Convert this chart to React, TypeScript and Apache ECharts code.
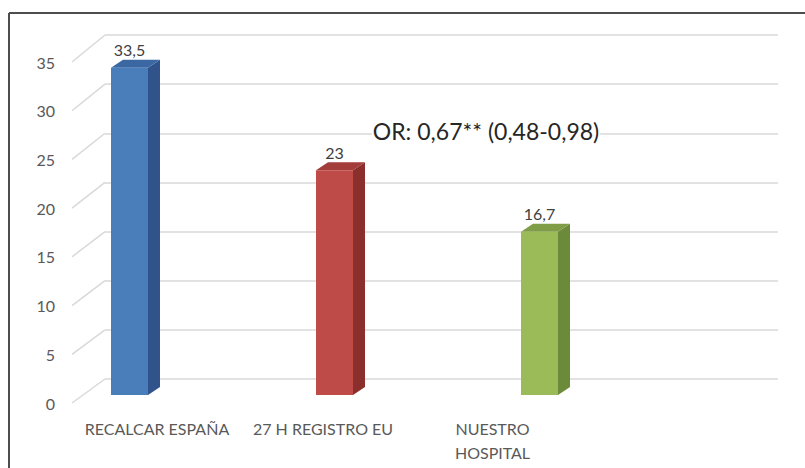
import React, { useEffect, useRef } from "react";
import * as echarts from "echarts";

const categories = ["RECALCAR ESPAÑA", "27 H REGISTRO EU", "NUESTRO\nHOSPITAL"];
const values = [33.5, 23, 16.7];
const yTicks = [0, 5, 10, 15, 20, 25, 30, 35];
const annotation = "OR: 0,67** (0,48-0,98)";

const frontColors = ["#4a7ebb", "#be4b48", "#9bbb59"];
const sideColors = ["#2f538a", "#8a2f2c", "#6b8a3a"];
const topColors = ["#3b67a3", "#a33d3a", "#7f9c47"];
// per-category label shift via padding [top,right,bottom,left]
const labelPads = [
  [0, 0, 0, 55],
  [0, 23, 0, 0],
  [0, 94, 0, 0],
];

const FONT = "Lato, 'Open Sans', sans-serif";

export default function App() {
  const ref = useRef<HTMLDivElement>(null);
  useEffect(() => {
    if (!ref.current) return;
    const chart = echarts.init(ref.current, undefined, { renderer: "svg" });
    const rich: any = {};
    labelPads.forEach((p, i) => {
      rich["c" + i] = {
        padding: p,
        fontFamily: FONT,
        fontSize: 16,
        color: "#595959",
        lineHeight: 24,
      };
    });
    const W = 37;
    const D = 12;
    const H = 8;
    chart.setOption({
      animation: false,
      backgroundColor: "#ffffff",
      grid: [
        { left: 105, top: 35, width: 673, height: 344 },
        { left: 72, top: 62, width: 673, height: 341 },
        { left: 27, top: 53, width: 615, height: 342 },
      ],
      xAxis: [
        { gridIndex: 0, type: "value", min: 0, max: 1, show: false },
        { gridIndex: 1, type: "value", min: 0, max: 1, show: false },
        {
          gridIndex: 2,
          type: "category",
          data: categories,
          axisLine: { show: false },
          axisTick: { show: false },
          splitLine: { show: false },
          axisLabel: {
            margin: 21,
            interval: 0,
            formatter: (v: string, i: number) =>
              v
                .split("\n")
                .map((s) => `{c${i}|${s}}`)
                .join("\n"),
            rich,
          },
        },
      ],
      yAxis: [
        {
          gridIndex: 0,
          type: "value",
          min: 0,
          max: 35,
          interval: 5,
          axisLine: { show: false },
          axisTick: { show: false },
          axisLabel: { show: false },
          splitLine: { lineStyle: { color: "#d9d9d9", width: 1.5 } },
        },
        {
          gridIndex: 1,
          type: "value",
          min: 0,
          max: 35,
          interval: 5,
          axisLine: { show: false },
          axisTick: { show: false },
          splitLine: { show: false },
          axisLabel: {
            margin: 17,
            fontFamily: FONT,
            fontSize: 16,
            color: "#595959",
          },
        },
        {
          gridIndex: 2,
          type: "value",
          min: 0,
          max: 35,
          show: false,
        },
      ],
      series: [
        {
          type: "custom",
          xAxisIndex: 1,
          yAxisIndex: 1,
          data: yTicks.map((t) => [0, t]),
          renderItem: (params: any, api: any) => {
            const t = api.value(1);
            const p = api.coord([0, t]);
            const dy = 24 + (3 * t) / 35;
            return {
              type: "line",
              shape: { x1: p[0], y1: p[1], x2: p[0] + 33, y2: p[1] - dy },
              style: { stroke: "#d9d9d9", lineWidth: 1.5 },
            };
          },
        },
        {
          type: "custom",
          xAxisIndex: 2,
          yAxisIndex: 2,
          data: values.map((v, i) => [i, v]),
          renderItem: (params: any, api: any) => {
            const i = params.dataIndex;
            const v = api.value(1);
            const top = api.coord([i, v]);
            const base = api.coord([i, 0]);
            const cx = top[0];
            const l = cx - W / 2;
            const r = cx + W / 2;
            const ty = top[1];
            const by = base[1];
            return {
              type: "group",
              children: [
                {
                  type: "polygon",
                  shape: { points: [[r, ty], [r + D, ty - H], [r + D, by - H], [r, by]] },
                  style: { fill: sideColors[i] },
                },
                {
                  type: "polygon",
                  shape: { points: [[l, ty], [l + D, ty - H], [r + D, ty - H], [r, ty]] },
                  style: { fill: topColors[i] },
                },
                {
                  type: "rect",
                  shape: { x: l, y: ty, width: W, height: by - ty },
                  style: { fill: frontColors[i] },
                },
                {
                  type: "text",
                  x: cx,
                  y: ty - H - 10,
                  style: {
                    text: String(v).replace(".", ","),
                    fontFamily: FONT,
                    fontSize: 16,
                    fill: "#404040",
                    align: "center",
                    verticalAlign: "middle",
                  },
                },
              ],
            };
          },
        },
      ],
      graphic: [
        {
          type: "line",
          shape: { x1: 9, y1: 13, x2: 805, y2: 13 },
          style: { stroke: "#4d4d4d", lineWidth: 2 },
        },
        {
          type: "line",
          shape: { x1: 9, y1: 13, x2: 9, y2: 468 },
          style: { stroke: "#4d4d4d", lineWidth: 2 },
        },
        {
          type: "text",
          x: 486,
          y: 131,
          z: 10,
          style: {
            text: annotation,
            fontFamily: FONT,
            fontSize: 23,
            fill: "#262626",
            align: "center",
            verticalAlign: "middle",
            backgroundColor: "#ffffff",
            padding: [0, 1, 0, 1],
          },
        },
      ],
    });
    return () => chart.dispose();
  }, []);
  return (
    <div
      ref={ref}
      style={{ position: "fixed", left: 0, top: 0, width: 805, height: 468 }}
    />
  );
}
